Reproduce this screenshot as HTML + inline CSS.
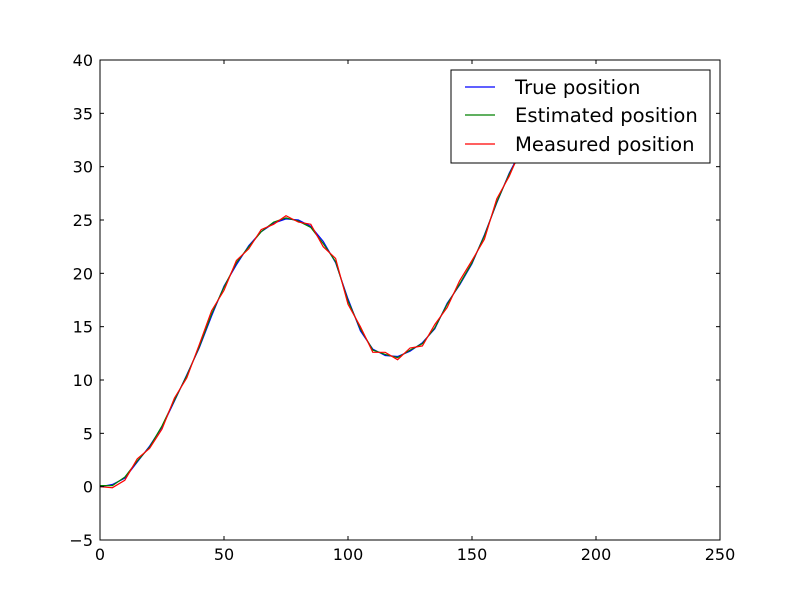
<!DOCTYPE html>
<html><head><meta charset="utf-8"><style>
html,body{margin:0;padding:0;background:#fff;}
svg{display:block;font-family:"DejaVu Sans","Liberation Sans",sans-serif;}
</style></head><body>
<svg id="chart" width="800" height="600">
<rect x="0" y="0" width="800" height="600" fill="#fff"/>
<g id="plot"></g>
<g id="axes"></g>
<g>
<rect x="451" y="70" width="259" height="93" fill="#fff" stroke="#000" stroke-width="1"/>
<line x1="465" y1="87" x2="495" y2="87" stroke="#0000ff" stroke-width="1.2"/>
<text x="515" y="94" font-size="19.6">True position</text>
<line x1="465" y1="115" x2="495" y2="115" stroke="#008000" stroke-width="1.2"/>
<text x="515" y="122" font-size="19.6">Estimated position</text>
<line x1="465" y1="144" x2="495" y2="144" stroke="#ff0000" stroke-width="1.2"/>
<text x="515" y="151" font-size="19.6">Measured position</text>
</g>
</svg>
<script>
const xs =        [0,5,10,15,20,25,30,35,40,45,50,55,60,65,70,75,80,85,90,95,100,105,110,115,120,125,130,135,140,145,150,155,160,165,170,175];
const trueVals =  [0,0.2,0.8,2.3,3.8,5.6,8,10.5,13,16,18.8,20.8,22.6,23.9,24.7,25.1,25,24.4,23,21,17.6,14.6,12.9,12.3,12.2,12.7,13.5,14.8,17.2,18.9,20.9,23.6,26.6,29.4,31.6,33.5];
const estVals =   [0.1,0.1,0.9,2.4,3.7,5.7,8.1,10.4,13.1,16.2,18.7,21,22.5,23.9,24.8,25.2,24.9,24.3,22.8,21.1,17.4,14.8,12.8,12.4,12.1,12.8,13.4,14.9,17.1,19,21,23.5,26.7,29.3,31.5,33.4];
const measVals =  [0,-0.1,0.6,2.6,3.6,5.4,8.3,10.2,13.3,16.5,18.4,21.2,22.3,24.1,24.6,25.4,24.8,24.6,22.5,21.4,17.1,15,12.6,12.6,11.9,13,13.2,15.2,16.8,19.3,21.2,23.2,27,29.1,31.8,33.2];
const xTicks = [0,50,100,150,200,250];
const yTicks = [-5,0,5,10,15,20,25,30,35,40];
const L=100,R=720,T=60,B=540, X0=0,X1=250,Y0=-5,Y1=40;
const sx=v=>L+(v-X0)/(X1-X0)*(R-L);
const sy=v=>B-(v-Y0)/(Y1-Y0)*(B-T);
const NS="http://www.w3.org/2000/svg";
const plot=document.getElementById('plot'), axes=document.getElementById('axes');
function mk(tag,attrs,parent){const e=document.createElementNS(NS,tag);for(const k in attrs)e.setAttribute(k,attrs[k]);parent.appendChild(e);return e;}
const clip=mk('clipPath',{id:'clp'},plot);mk('rect',{x:L,y:T,width:R-L,height:B-T},clip);
function series(vals,color,name){
  const d=xs.map((x,i)=>(i?'L':'M')+sx(x).toFixed(1)+','+sy(vals[i]).toFixed(1)).join(' ');
  const p=mk('path',{d:d,fill:'none',stroke:color,'stroke-width':1.2,'clip-path':'url(#clp)'},plot);
  
  
}
series(trueVals,'#0000ff','true-position-line');
series(estVals,'#008000','estimated-position-line');
series(measVals,'#ff0000','measured-position-line');
const frame=mk('rect',{x:L,y:T,width:R-L,height:B-T,fill:'none',stroke:'#000','stroke-width':1},axes);


xTicks.forEach(v=>{
  const x=sx(v);
  mk('line',{x1:x,y1:B,x2:x,y2:B-4,stroke:'#000'},axes);
  mk('line',{x1:x,y1:T,x2:x,y2:T+4,stroke:'#000'},axes);
  const t=mk('text',{x:x,y:B+20,'font-size':16,'text-anchor':'middle'},axes);
  t.textContent=v;
  
  
});
yTicks.forEach(v=>{
  const y=sy(v);
  mk('line',{x1:L,y1:y,x2:L+4,y2:y,stroke:'#000'},axes);
  mk('line',{x1:R,y1:y,x2:R-4,y2:y,stroke:'#000'},axes);
  const t=mk('text',{x:L-7,y:y+6,'font-size':16,'text-anchor':'end'},axes);
  t.textContent=v<0?'\u2212'+Math.abs(v):v;
  
  
});
</script>
</body></html>
